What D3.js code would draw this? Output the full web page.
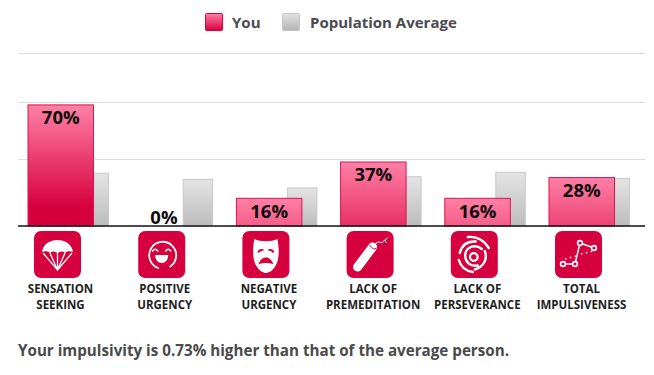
<!DOCTYPE html>
<html>
<head>
<meta charset="utf-8">
<script src="https://cdn.jsdelivr.net/npm/d3@7"></script>
<style>
    html, body { margin: 0; padding: 0; background: #fff; }
    text { font-family: "Open Sans", sans-serif; font-weight: 700; }
</style>
</head>
<body>
<svg id="mainSvg" width="654" height="375"></svg>
<script>
const categories = ["sensation", "positive", "negative", "premeditation", "perseverance", "total"];
const labelLines = [
    ["SENSATION", "SEEKING"],
    ["POSITIVE", "URGENCY"],
    ["NEGATIVE", "URGENCY"],
    ["LACK OF", "PREMEDITATION"],
    ["LACK OF", "PERSEVERANCE"],
    ["TOTAL", "IMPULSIVENESS"]
];
const youValues = [70, 0, 16, 37, 16, 28];
const populationValues = [30.5, 27, 22, 28.5, 31, 27.5];
const gridValues = [38.7, 71.7, 100];
const legendLabels = ["You", "Population Average"];
const summary = "Your impulsivity is 0.73% higher than that of the average person.";

const red = "#d6003f";
const svg = d3.select("#mainSvg");
const defs = svg.append("defs");

const baseline = 226;
const yScale = d3.scaleLinear().domain([0, 100]).range([baseline, 53]);
const xScale = d3.scaleBand().domain(categories).range([27.5, 27.5 + 6 * 104.2]);
const youWidth = 66.5, popOffset = 51, popWidth = 30.5;
const iconSize = 47, iconOffset = 6.5;
const gradientLength = 102;

function addStops(grad, top, bottom) {
    grad.append("stop").attr("offset", "0%").attr("stop-color", top);
    grad.append("stop").attr("offset", "100%").attr("stop-color", bottom);
}
addStops(defs.append("linearGradient").attr("id", "legendYou").attr("x2", 0).attr("y2", 1), "#ff80a6", red);
addStops(defs.append("linearGradient").attr("id", "legendPop").attr("x2", 0).attr("y2", 1), "#e2e2e2", "#b4b4b4");
addStops(defs.append("linearGradient").attr("id", "popFill").attr("x2", 0).attr("y2", 1), "#e4e4e4", "#bcbcbc");

// legend
const legendX = [205, 282], legendTextX = [232, 310];
const legendFills = ["url(#legendYou)", "url(#legendPop)"];
const legendStrokes = [red, "#c4c4c4"];
legendLabels.forEach((label, i) => {
    svg.append("rect").attr("x", legendX[i] + 0.5).attr("y", 13.5).attr("width", 17).attr("height", 17).attr("rx", 1)
        .attr("fill", legendFills[i]).attr("stroke", legendStrokes[i]);
    svg.append("text").attr("x", legendTextX[i]).attr("y", 28).attr("font-size", 15).attr("fill", "#4a4a4f").text(label);
});

// grid lines
svg.selectAll(".grid").data(gridValues).join("line").attr("class", "grid")
    .attr("x1", 18).attr("x2", 645)
    .attr("y1", d => Math.round(yScale(d)) + 0.5).attr("y2", d => Math.round(yScale(d)) + 0.5)
    .attr("stroke", "#dcdcdc").attr("stroke-width", 1);

// population bars
svg.selectAll(".pop").data(categories).join("rect").attr("class", "pop")
    .attr("x", d => xScale(d) + popOffset + 0.5)
    .attr("y", (d, i) => yScale(populationValues[i]))
    .attr("width", popWidth - 1)
    .attr("height", (d, i) => baseline - yScale(populationValues[i]))
    .attr("fill", "url(#popFill)").attr("stroke", "#c8c8c8");

// you bars, the gradient has a fixed length so short bars stay pink
categories.forEach((c, i) => {
    if (youValues[i] === 0) return;
    const top = yScale(youValues[i]);
    addStops(defs.append("linearGradient").attr("id", "you" + i).attr("gradientUnits", "userSpaceOnUse")
        .attr("x1", 0).attr("x2", 0).attr("y1", top).attr("y2", top + gradientLength), "#ff80a6", red);
});
svg.selectAll(".you").data(categories).join("rect").attr("class", "you")
    .attr("x", d => xScale(d) + 0.5)
    .attr("y", (d, i) => yScale(youValues[i]))
    .attr("width", youWidth - 1)
    .attr("height", (d, i) => baseline - yScale(youValues[i]))
    .attr("fill", (d, i) => youValues[i] === 0 ? "none" : `url(#you${i})`)
    .attr("stroke", (d, i) => youValues[i] === 0 ? "none" : "#dc1450");

svg.selectAll(".value").data(categories).join("text").attr("class", "value")
    .attr("x", (d, i) => xScale(d) + youWidth / 2 + (youValues[i] === 0 ? -1 : 0))
    .attr("y", (d, i) => youValues[i] === 0 ? baseline - 2.5 : yScale(youValues[i]) + 19.5)
    .attr("text-anchor", "middle").attr("font-size", 18.5).attr("fill", "#0c0c0c")
    .text((d, i) => youValues[i] + "%");

svg.append("line").attr("x1", 18).attr("x2", 645).attr("y1", baseline).attr("y2", baseline)
    .attr("stroke", "#111").attr("stroke-width", 1.5);

// icon tiles
const icons = svg.selectAll(".icon").data(categories).join("g").attr("class", "icon")
    .attr("transform", d => `translate(${xScale(d) + iconOffset}, 231)`);
icons.append("rect").attr("width", iconSize).attr("height", iconSize).attr("rx", 7).attr("fill", red);

const drawIcon = {
    sensation(g) {
        g.append("path").attr("fill", "#fff")
            .attr("d", "M8,21 C9,13 16,9 23.5,9 C31,9 38,13 39,21 C36,20 33,20 31,22 C29,20 26,20 23.5,22 C21,20 18,20 16,22 C14,20 11,20 8,21 Z");
        g.append("path").attr("fill", "none").attr("stroke", "#fff").attr("stroke-width", 1.3)
            .attr("d", "M9,22 L23.5,39 L38,22 M16,22 L23.5,39 L31,22 M23.5,21 V39");
    },
    positive(g) {
        g.append("path").attr("fill", "none").attr("stroke", "#fff").attr("stroke-width", 1.8).attr("stroke-linecap", "round")
            .attr("d", "M20,37 A13.5,13.5 0 1 1 32,35.5");
        g.append("path").attr("fill", "none").attr("stroke", "#fff").attr("stroke-width", 1.6).attr("stroke-linecap", "round")
            .attr("d", "M14.5,20 Q17,16.5 19.5,20 M27.5,20 Q30,16.5 32.5,20");
        g.append("path").attr("fill", "#fff").attr("d", "M17,24 H30 C30,29 27,32 23.5,32 C20,32 17,29 17,24 Z");
    },
    negative(g) {
        g.append("path").attr("fill", "#fff")
            .attr("d", "M12,8 C18,11 29,11 35,8 C37,18 37,29 33,35 C30,40 26,42 23.5,42 C21,42 17,40 14,35 C10,29 10,18 12,8 Z");
        g.append("path").attr("fill", red)
            .attr("d", "M15,21 C16,18 20,17 22,19.5 C20,19.5 18,20 16.5,22 Z M32,21 C31,18 27,17 25,19.5 C27,19.5 29,20 30.5,22 Z M16,33.5 C18,28 21,26.5 23.5,26.5 C26,26.5 29,28 31,33.5 C28,31.5 19,31.5 16,33.5 Z");
    },
    premeditation(g) {
        g.append("line").attr("x1", 11).attr("y1", 36).attr("x2", 26).attr("y2", 16)
            .attr("stroke", "#fff").attr("stroke-width", 9).attr("stroke-linecap", "round");
        g.append("path").attr("fill", "none").attr("stroke", red).attr("stroke-width", 1).attr("d", "M23,14 Q27,20 30,17");
        g.append("path").attr("fill", "none").attr("stroke", "#fff").attr("stroke-width", 1)
            .attr("d", "M27,15 Q31,9 35,12 L38,9 M38,9 L41,7 M38,9 L40,12");
    },
    perseverance(g) {
        g.append("circle").attr("cx", 23).attr("cy", 26).attr("r", 3.8).attr("fill", "none").attr("stroke", "#fff").attr("stroke-width", 2.2);
        g.append("path").attr("fill", "none").attr("stroke", "#fff").attr("stroke-linecap", "round").attr("stroke-width", 2.4)
            .attr("d", "M31,18 C25,13 16,15 14.5,23 C13.5,31 20,36 27,34.5 M9,22 C11,14 17,10 25,10.5 M34,20 C37,28 33,36 24,38.5 M17,6 C25,5 33,9 38,17 M8,29 C10,36 15,40 22,41");
    },
    total(g) {
        const pts = [[8, 33], [20, 33], [25, 12], [39, 17]];
        g.append("path").attr("fill", "none").attr("stroke", "#fff").attr("stroke-width", 1.5)
            .attr("d", d3.line()(pts));
        g.append("path").attr("fill", "none").attr("stroke", "#fff").attr("stroke-width", 1.5).attr("stroke-dasharray", "1.5 3.5")
            .attr("d", "M10,28 L21,25 M26,23 L38,20");
        g.selectAll("circle").data(pts).join("circle").attr("cx", d => d[0]).attr("cy", d => d[1]).attr("r", 2.4)
            .attr("fill", red).attr("stroke", "#fff").attr("stroke-width", 1.6);
    }
};
icons.each(function (d) { drawIcon[d](d3.select(this)); });

// category labels
svg.selectAll(".label").data(categories).join("text").attr("class", "label")
    .attr("text-anchor", "middle").attr("font-size", 11.5).attr("fill", "#1e1e1e")
    .attr("transform", d => `translate(${xScale(d) + iconOffset + iconSize / 2 + 3}, 293)`)
    .selectAll("tspan").data((d, i) => labelLines[i]).join("tspan")
    .attr("x", 0).attr("y", (d, i) => i * 16).text(d => d);

svg.append("text").attr("x", 18).attr("y", 356).attr("font-size", 15.2).attr("fill", "#4a4a4a").text(summary);
</script>
</body>
</html>
